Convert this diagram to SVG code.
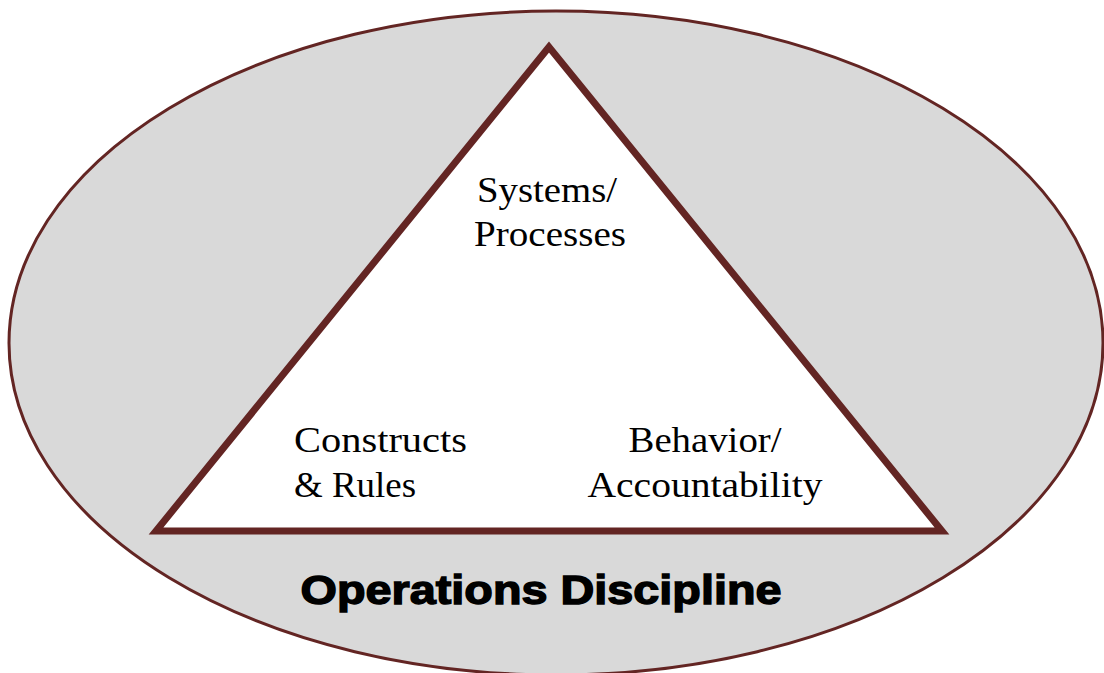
<svg xmlns="http://www.w3.org/2000/svg" width="1104" height="673" viewBox="0 0 1104 673">
<style>
.lbl{font-family:"Liberation Serif","Times New Roman",serif;font-size:36px;fill:#000}
.title{font-family:"Liberation Sans",Arial,sans-serif;font-size:41px;font-weight:bold;fill:#000;stroke:#000;stroke-width:1.4}
</style>
<rect width="1104" height="673" fill="#ffffff"/>
<g id="ellipse">
<ellipse cx="556" cy="343" rx="547" ry="332" fill="#d9d9d9" stroke="#632523" stroke-width="3"/>
<text class="title" x="541" y="604" text-anchor="middle" textLength="481" lengthAdjust="spacingAndGlyphs">Operations Discipline</text>
</g>
<g id="triangle">
<polygon points="549,47 156,531 942,531" fill="#ffffff" stroke="#632523" stroke-width="7" stroke-linejoin="miter"/>
</g>
<g id="systems">
<text class="lbl" x="547" y="202" text-anchor="middle" textLength="140" lengthAdjust="spacingAndGlyphs">Systems/</text>
<text class="lbl" x="550" y="246" text-anchor="middle" textLength="152" lengthAdjust="spacingAndGlyphs">Processes</text>
</g>
<g id="constructs">
<text class="lbl" x="294" y="452" textLength="173" lengthAdjust="spacingAndGlyphs">Constructs</text>
<text class="lbl" x="294" y="497" textLength="122" lengthAdjust="spacingAndGlyphs">&amp; Rules</text>
</g>
<g id="behavior">
<text class="lbl" x="705" y="452" text-anchor="middle" textLength="153" lengthAdjust="spacingAndGlyphs">Behavior/</text>
<text class="lbl" x="705" y="497" text-anchor="middle" textLength="235" lengthAdjust="spacingAndGlyphs">Accountability</text>
</g>
<g id="connectors"></g>
</svg>
